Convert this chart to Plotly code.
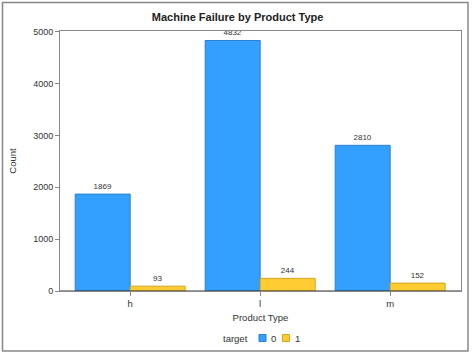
import plotly.graph_objects as go

categories = ["h", "l", "m"]
target0 = [1869, 4832, 2810]
target1 = [93, 244, 152]
y_ticks = [0, 1000, 2000, 3000, 4000, 5000]
legend_title = "target"
legend_labels = ["0", "1"]

blue, blue_line = "#33A0FF", "#2B7FD0"
yellow, yellow_line = "#FFCC33", "#D4A520"
colors = [(blue, blue_line), (yellow, yellow_line)]

fig = go.Figure()
for vals, nm, (c, lc) in zip([target0, target1], legend_labels, colors):
    fig.add_trace(go.Bar(
        x=categories, y=vals, name=nm, showlegend=False,
        marker=dict(color=c, line=dict(color=lc, width=1)),
        text=[str(v) for v in vals], textposition="outside",
        textfont=dict(size=8, color="#333333"), cliponaxis=False,
    ))

L, R, T, B = 60, 13, 31, 63
W, H = 474, 354
pw, ph = W - L - R, H - T - B

def px(x):
    return (x - L) / pw

def py(y):
    return (H - B - y) / ph

txt = dict(size=9.5, color="#333333")
annotations = [dict(text=legend_title, xref="paper", yref="paper", x=px(221), y=py(338),
                    xanchor="left", yanchor="middle", showarrow=False, font=txt)]
shapes = [
    dict(type="rect", xref="paper", yref="paper",
         x0=px(2.5), x1=px(468), y0=py(351), y1=py(2.5),
         line=dict(color="#888888", width=1.5), fillcolor="rgba(0,0,0,0)", layer="below"),
    dict(type="line", xref="paper", yref="y", x0=0, x1=1, y0=0, y1=0,
         line=dict(color="#333333", width=1)),
]
# legend key squares and labels
for i, (lab, (c, lc)) in enumerate(zip(legend_labels, colors)):
    sx = 259 + i * 23.5
    shapes.append(dict(type="rect", xref="paper", yref="paper",
                       x0=px(sx), x1=px(sx + 7), y0=py(341.5), y1=py(334.5),
                       fillcolor=c, line=dict(color=lc, width=1)))
    annotations.append(dict(text=lab, xref="paper", yref="paper", x=px(sx + 10), y=py(338),
                            xanchor="left", yanchor="middle", showarrow=False, font=txt))

fig.update_layout(
    width=W, height=H,
    margin=dict(l=L, r=R, t=T, b=B, autoexpand=False),
    paper_bgcolor="white", plot_bgcolor="white",
    font=dict(family="Liberation Sans, Arial, sans-serif", size=9.5, color="#333333"),
    barmode="group", bargap=0.154, bargroupgap=0, showlegend=False,
    title=dict(text="<b>Machine Failure by Product Type</b>", x=px(261), xanchor="center",
               y=1 - 17 / H, yanchor="middle", font=dict(size=11, color="#222222")),
    xaxis=dict(range=[-0.54, 2.545], showline=True, linecolor="#888888", mirror=True,
               ticks="outside", ticklen=4, tickcolor="#888888", tickfont=dict(size=9.5),
               title=dict(text="Product Type", font=dict(size=9.5), standoff=5),
               showgrid=False, zeroline=False),
    yaxis=dict(range=[0, 5015], tickvals=y_ticks, showline=True, linecolor="#888888", mirror=True,
               ticks="outside", ticklen=4, tickcolor="#888888", tickfont=dict(size=9),
               title=dict(text="Count", font=dict(size=9.5), standoff=14),
               showgrid=False, zeroline=False),
    annotations=annotations,
    shapes=shapes,
)

fig.write_html("out.html")
